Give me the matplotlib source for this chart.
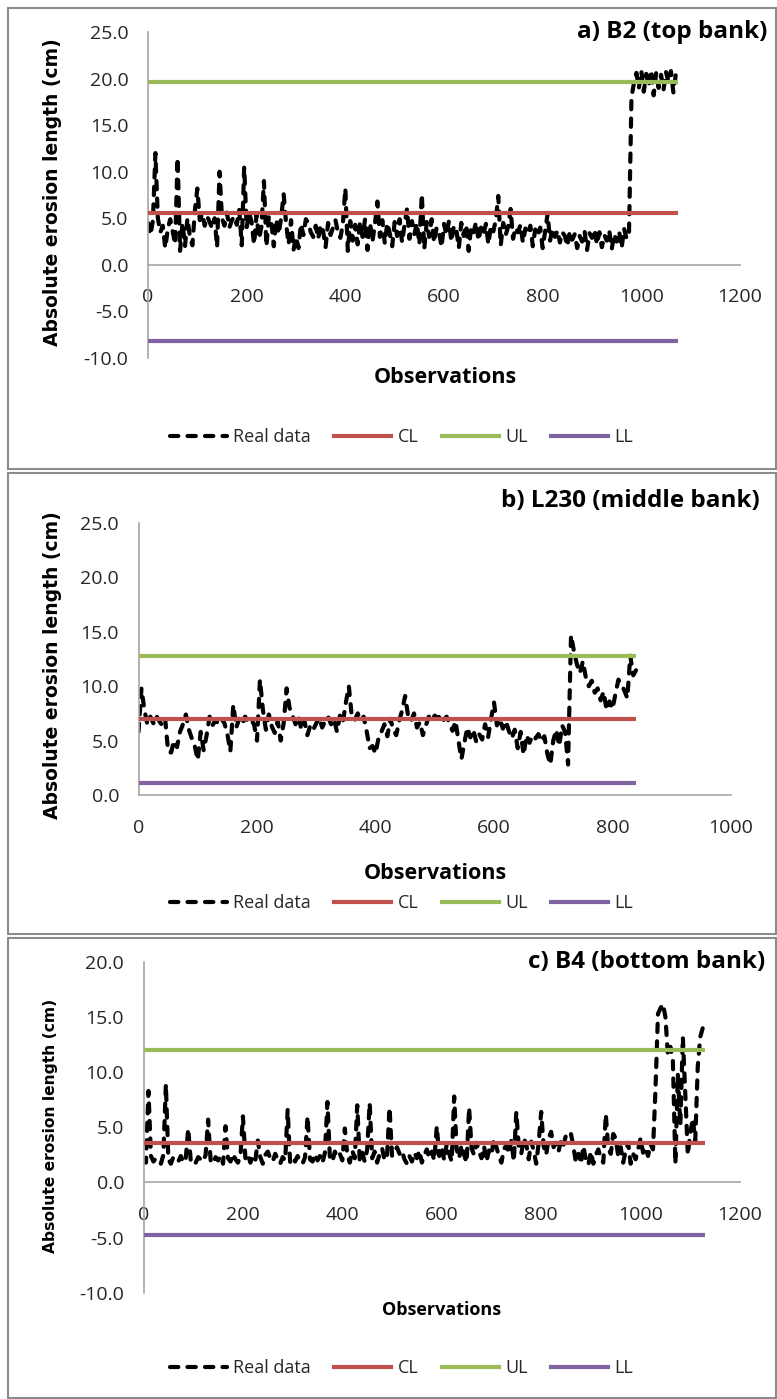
"""
Control charts of absolute erosion length at three banks.
"""

import numpy as np
import matplotlib.pyplot as plt
from matplotlib.lines import Line2D
from matplotlib.patches import Rectangle

# ---- data (one value every 5 observations) ----
obs_step = 5

erosion_b2 = [
    4.5, 3.2, 4.8, 12.0, 5.0, 3.5, 4.2, 1.8, 3.8, 4.9,
    3.6, 2.2, 11.5, 1.5, 4.5, 2.0, 5.0, 3.0, 2.1, 5.8,
    8.2, 4.8, 5.5, 4.2, 5.2, 4.6, 3.9, 5.0, 1.9, 10.0,
    5.0, 4.2, 5.6, 4.0, 4.8, 5.2, 4.3, 5.9, 2.1, 10.5,
    4.0, 5.6, 4.6, 2.2, 5.4, 2.8, 4.1, 9.0, 2.0, 5.2,
    4.6, 2.0, 4.9, 3.3, 5.1, 7.6, 4.4, 2.2, 4.8, 1.6,
    3.0, 1.8, 4.4, 3.2, 4.9, 4.5, 3.5, 3.0, 4.2, 2.8,
    4.3, 3.6, 1.9, 4.5, 3.2, 4.0, 4.8, 3.5, 2.9, 4.4,
    8.2, 1.5, 4.7, 2.6, 4.3, 2.2, 4.6, 3.0, 4.9, 1.6,
    4.5, 2.5, 4.4, 6.8, 3.0, 4.8, 2.3, 4.5, 3.4, 2.0,
    4.6, 3.1, 4.9, 2.4, 4.3, 6.0, 2.8, 4.7, 3.3, 4.5,
    2.2, 7.6, 1.7, 4.6, 3.0, 4.9, 2.4, 4.0, 3.6, 1.9,
    4.4, 3.2, 4.7, 2.5, 4.2, 3.8, 1.8, 4.5, 3.1, 4.3,
    1.5, 4.1, 3.5, 4.6, 2.6, 4.0, 3.3, 4.4, 2.2, 4.2,
    3.6, 4.8, 7.4, 2.1, 4.5, 3.2, 4.1, 6.0, 2.8, 4.0,
    3.5, 4.3, 2.4, 3.9, 3.3, 4.2, 2.0, 3.8, 3.1, 4.0,
    1.8, 3.6, 5.5, 2.6, 3.9, 3.0, 3.7, 2.4, 3.5, 3.1,
    2.0, 3.6, 2.7, 3.3, 1.8, 3.1, 2.5, 3.6, 1.6, 3.4,
    2.9, 3.8, 2.2, 3.5, 1.9, 3.2, 2.6, 3.7, 1.7, 3.3,
    2.5, 3.6, 1.8, 3.9, 2.8, 3.4, 18.0, 19.5, 20.6, 19.0,
    20.8, 18.6, 20.5, 19.2, 20.9, 18.2, 20.6, 19.0, 20.4, 18.8,
    20.7, 19.6, 20.8, 18.5, 20.5, 20.6,
]

erosion_l230 = [
    5.8, 9.8, 7.8, 6.5, 7.2, 6.6, 7.3, 6.8, 6.4, 7.0,
    4.0, 3.9, 5.0, 4.4, 5.8, 6.5, 7.4, 6.0, 5.2, 4.5,
    3.2, 5.8, 4.1, 5.5, 7.2, 6.4, 6.9, 6.5, 7.0, 6.6,
    5.6, 4.0, 8.3, 6.2, 7.0, 6.5, 7.2, 6.7, 6.9, 6.5,
    5.0, 10.6, 7.8, 6.0, 7.4, 6.3, 5.7, 6.8, 5.0, 6.6,
    9.8, 8.0, 7.3, 6.5, 7.2, 6.0, 6.8, 5.5, 6.4, 6.0,
    6.6, 7.1, 6.2, 6.8, 7.2, 6.5, 7.0, 5.8, 7.3, 6.7,
    8.5, 10.0, 7.2, 6.9, 7.5, 6.8, 7.2, 5.9, 4.3, 4.5,
    3.8, 5.2, 5.8, 6.5, 5.4, 7.0, 6.0, 5.5, 6.8, 7.8,
    9.1, 7.3, 6.8, 7.5, 6.2, 6.7, 5.5, 6.4, 7.2, 6.8,
    7.3, 7.0, 7.4, 6.9, 7.2, 6.6, 5.9, 6.8, 5.0, 3.3,
    4.8, 6.2, 5.3, 6.0, 4.9, 5.6, 5.1, 6.5, 5.3, 7.0,
    8.5, 6.4, 7.0, 6.1, 6.8, 5.9, 5.2, 6.0, 4.3, 5.8,
    3.7, 5.5, 4.8, 5.5, 5.2, 5.6, 4.9, 5.4, 3.8, 2.8,
    5.0, 6.0, 4.5, 6.4, 5.8, 2.8, 14.7, 13.2, 12.0, 11.2,
    12.3, 10.8, 10.0, 10.5, 9.4, 9.8, 8.7, 9.5, 7.8, 8.6,
    7.9, 9.3, 10.6, 10.2, 9.6, 8.9, 12.8, 11.0, 11.5,
]

erosion_b4 = [
    2.0, 1.8, 8.3, 2.4, 1.9, 2.2, 2.0, 1.7, 2.5, 8.9,
    2.1, 1.7, 2.3, 2.0, 1.9, 2.4, 1.8, 2.2, 4.9, 2.0,
    2.2, 1.8, 2.3, 2.1, 1.9, 2.5, 5.7, 2.0, 1.7, 2.3,
    2.0, 2.4, 1.7, 5.1, 2.2, 1.9, 2.6, 2.1, 1.8, 2.4,
    6.0, 2.2, 2.6, 1.8, 2.4, 2.0, 3.8, 2.3, 1.7, 2.5,
    2.8, 2.2, 1.9, 2.6, 2.1, 1.7, 2.3, 2.0, 6.6, 1.8,
    2.2, 1.9, 2.4, 2.0, 1.7, 2.3, 6.0, 2.1, 1.9, 2.6,
    2.0, 2.4, 1.8, 2.7, 7.3, 2.2, 1.9, 2.8, 2.3, 2.6,
    2.0, 4.9, 2.5, 1.8, 2.9, 2.2, 7.0, 2.0, 2.7, 1.9,
    3.0, 7.2, 2.2, 2.8, 1.8, 2.6, 3.1, 2.0, 2.5, 6.8,
    2.4, 2.8, 3.2, 2.6, 2.9, 2.1, 1.7, 2.4, 1.9, 2.7,
    2.2, 2.9, 1.8, 2.5, 3.0, 2.2, 2.8, 2.0, 5.1, 2.4,
    3.2, 2.0, 3.5, 2.6, 1.9, 7.8, 3.0, 2.2, 3.4, 2.5,
    1.8, 6.8, 3.1, 2.5, 3.6, 2.8, 2.2, 3.3, 1.9, 2.9,
    2.5, 4.0, 3.2, 2.4, 1.8, 3.0, 3.4, 2.6, 3.8, 1.9,
    6.4, 3.2, 2.6, 4.0, 3.5, 2.1, 3.7, 2.9, 1.7, 3.6,
    6.4, 3.3, 2.5, 4.0, 4.6, 3.2, 3.6, 2.8, 3.9, 3.4,
    4.3, 4.6, 4.4, 3.2, 1.8, 2.6, 1.7, 3.3, 2.0, 1.6,
    2.8, 1.7, 2.5, 3.0, 2.2, 1.8, 6.2, 3.1, 2.6, 4.4,
    4.0, 2.4, 3.2, 1.8, 2.9, 3.6, 1.7, 2.6, 2.1, 3.0,
    4.0, 2.7, 3.2, 2.4, 3.5, 3.0, 8.5, 15.3, 15.8, 16.2,
    15.0, 11.5, 12.3, 11.0, 1.7, 9.8, 5.2, 13.2, 8.0, 2.5,
    4.5, 5.8, 3.8, 10.5, 13.2, 14.0, 14.3,
]

# control limits: centre line, upper and lower limit
limits_b2 = [5.6, 19.6, -8.2]
limits_l230 = [7.0, 12.8, 1.1]
limits_b4 = [3.6, 12.0, -4.8]

titles = ["a) B2 (top bank)", "b) L230 (middle bank)", "c) B4 (bottom bank)"]
legend_labels = ["Real data", "CL", "UL", "LL"]
y_label = "Absolute erosion length (cm)"
x_label = "Observations"

# ---- layout in pixels of the 777 x 1399 picture ----
W, H = 777, 1399
TXT = ["Open Sans", "DejaVu Sans"]
LIMIT_COLORS = ["#C0504D", "#9BBB59", "#8064A2"]
TICK_COLOR = "#262626"
AXIS_COLOR = "#A6A6A6"

plt.rcParams["axes.unicode_minus"] = False


def fx(px):
    return px / W


def fy(py):
    return 1 - py / H


def data_style():
    return dict(color="black", lw=3.0, linestyle=(0, (2.0, 2.2)),
                dash_capstyle="round")


def draw_panel(fig, values, limits, title, layout):
    left, right, top, bottom = layout["axes"]
    ax = fig.add_axes([fx(left), fy(bottom), fx(right - left),
                       (bottom - top) / H])
    x = np.arange(len(values)) * obs_step
    ax.plot(x, values, zorder=2, **data_style())
    for val, col in zip(limits, LIMIT_COLORS):
        ax.plot([x[0], x[-1]], [val, val], color=col, lw=3.0,
                solid_capstyle="butt", zorder=3)

    ax.set_xlim(0, layout["xmax"])
    ax.set_ylim(*layout["ylim"])
    ax.set_xticks(np.arange(0, layout["xmax"] + 1, 200))
    ax.set_yticks(np.arange(layout["ylim"][0], layout["ylim"][1] + 0.1, 5))
    ax.yaxis.set_major_formatter(plt.FormatStrFormatter("%.1f"))
    for side in ["top", "right"]:
        ax.spines[side].set_visible(False)
    ax.spines["bottom"].set_position(("data", 0))
    for side in ["left", "bottom"]:
        ax.spines[side].set_color(AXIS_COLOR)
        ax.spines[side].set_linewidth(1.2)
    ax.tick_params(axis="x", length=0, pad=layout["xpad"], labelsize=14,
                   labelcolor=TICK_COLOR)
    ax.tick_params(axis="y", length=0, pad=14, labelsize=14,
                   labelcolor=TICK_COLOR)
    for lab in ax.get_xticklabels() + ax.get_yticklabels():
        lab.set_family(TXT)
    ax.patch.set_alpha(0)

    # outer frame of the chart
    bx0, by0, bx1, by1 = layout["box"]
    fig.patches.append(Rectangle((fx(bx0), fy(by1)), fx(bx1 - bx0),
                                 (by1 - by0) / H, transform=fig.transFigure,
                                 fill=False, edgecolor="#8C8C8C", lw=1.5))

    fig.text(fx(layout["title"][0]), fy(layout["title"][1]), title,
             ha="right", va="center", fontsize=17.5, fontweight="bold",
             family=TXT, color="black")
    fig.text(fx(layout["ylab"][0]), fy(layout["ylab"][1]), y_label,
             rotation=90, ha="center", va="center",
             fontsize=layout["ylab"][2], fontweight="bold",
             family="DejaVu Sans", color="black")
    fig.text(fx(layout["xlab"][0]), fy(layout["xlab"][1]), x_label,
             ha="center", va="center", fontsize=layout["xlab"][2],
             fontweight="bold", family=TXT, color="black")

    handles = [Line2D([], [], **data_style())]
    handles += [Line2D([], [], color=c, lw=3.0) for c in LIMIT_COLORS]
    leg = fig.legend(handles, legend_labels, loc="center left",
                     bbox_to_anchor=(fx(170), fy(layout["legend_y"])),
                     ncol=4, frameon=False, handlelength=3.15,
                     handletextpad=0.35, columnspacing=1.3, borderpad=0,
                     borderaxespad=0, prop={"family": TXT, "size": 13})
    for t in leg.get_texts():
        t.set_color(TICK_COLOR)
    return ax


def main():
    fig = plt.figure(figsize=(W / 100, H / 100), dpi=100)

    layouts = [
        dict(axes=(148, 740, 32, 358), xmax=1200, ylim=(-10, 25), xpad=17,
             box=(8, 8, 776, 469), title=(767, 32), ylab=(53, 192, 13.5),
             xlab=(445, 377, 15.5), legend_y=437),
        dict(axes=(138.5, 731, 523, 795), xmax=1000, ylim=(0, 25), xpad=17,
             box=(8, 473, 776, 934), title=(760, 501), ylab=(53, 665, 13.5),
             xlab=(435, 873, 15.5), legend_y=903),
        dict(axes=(143.5, 740, 962, 1292.7), xmax=1200, ylim=(-10, 20),
             xpad=17, box=(8, 938, 776, 1398), title=(765, 962),
             ylab=(51, 1126, 11.2), xlab=(442, 1310, 13), legend_y=1368),
    ]
    series = [erosion_b2, erosion_l230, erosion_b4]
    limits = [limits_b2, limits_l230, limits_b4]
    for vals, lim, title, lay in zip(series, limits, titles, layouts):
        draw_panel(fig, vals, lim, title, lay)

    fig.savefig("out.png", dpi=100)


if __name__ == "__main__":
    main()
